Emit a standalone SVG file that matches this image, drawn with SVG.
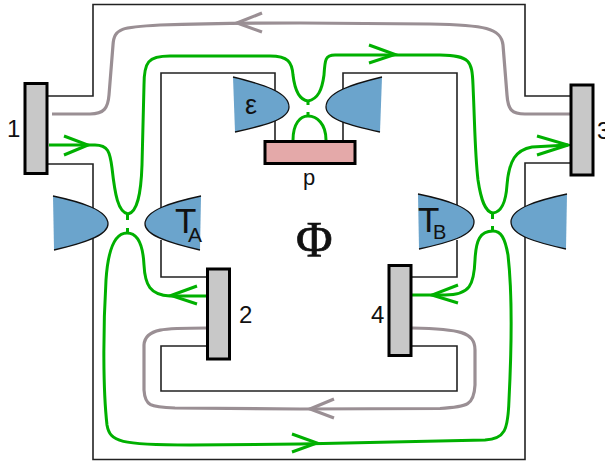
<svg xmlns="http://www.w3.org/2000/svg" width="605" height="462" viewBox="0 0 605 462">
<style>
.wall{fill:none;stroke:#222;stroke-width:1.6}
.g{fill:none;stroke:#00b000;stroke-width:3}
.m{fill:none;stroke:#9a8f94;stroke-width:3.2}
.gate{fill:#6ba4cc;stroke:none}
.edge{fill:none;stroke:#111;stroke-width:1.3}
.contact{fill:#c8c8c8;stroke:#000;stroke-width:3}
text{font-family:"Liberation Sans",Arial,sans-serif;fill:#111}
</style>
<rect width="605" height="462" fill="#fff"/>
<g id="walls">
<path class="wall" d="M48 96H93V4.500H525V96H572"/>
<path class="wall" d="M48 164H93V459.500H525V163H572"/>
<path class="wall" d="M161 209V73H275V140"/>
<path class="wall" d="M343 140V73H457V209"/>
<path class="wall" d="M161 240V277H207"/>
<path class="wall" d="M457 240V277H412"/>
<path class="wall" d="M207 346H161V391H457V346H412"/>
</g>
<g id="connectors">
<path class="m" d="M52 114H90C104 114 108 108 109 95L113 45C114 28 122 27 160 25Q220 23 300 23L430 24C485 25 501 28 503 45L507 95C508 110 512 114 525 114H570"/>
<path class="m" d="M207 328C165 328 145 328 144 345L144 390C145 406 150 407 175 408L300 409L440 408.500C468 407 474 405 475 385V350C475 332 460 329 412 328"/>
<path class="g" d="M49 145H95C108 145 110 152 112 168C115 195 118 212 128 214C137 212 141 195 142 165L144 85C144 62 148 56 170 56H270C288 56 292 62 293 75C295 92 300 100 308 101C318 99 322 90 324 75C325 60 325 55 335 55L440 55C470 56 472 60 473 85C475 130 475 155 478 180C481 200 485 212 493 213C502 212 506 200 507 185C509 160 516 150 532 147L568 145"/>
<path class="g" d="M293 140C293 124 300 116 308 116C317 116 326 124 326 140"/>
<path class="g" d="M207 296H170C150 295 145 285 144 265C143 245 138 233 127 233C115 233 108 250 106 280C103 330 103 390 107 425C110 442 120 445 190 445L300 444L485 440C505 439 508 430 509 400C512 340 512 290 508 255C505 238 501 231 493 231C480 231 476 240 475 260C474 285 470 295 445 295H412"/>
<path class="g" d="M127.500 214V220M127.500 228V233M308 101V105M308 112V116M492.500 213V219M492.500 226V231"/>
<path class="m" d="M262 13L237 23L262 32M334 399L310 409L334 418"/>
<path class="g" d="M64 136L88 145L64 155M369 45L395 54.500L369 63M537 136L568 145L537 155M197 286L171 295.500L197 304M458 285L432 295L458 303M292 434L317 443L292 452"/>
</g>
<g id="gate-eps"><path class="gate" d="M233 77C262 84 289 92 289 107C289 120 262 126 235 132Z"/><path class="edge" d="M233 77C262 84 289 92 289 107C289 120 262 126 235 132"/></g>
<g id="gate-eps-r"><path class="gate" d="M382 77C353 84 326 92 326 107C326 120 353 126 380 132Z"/><path class="edge" d="M382 77C353 84 326 92 326 107C326 120 353 126 380 132"/></g>
<g id="gate-ta-l"><path class="gate" d="M53 196C81 202 108 210 108 224C108 236 81 244 54 250Z"/><path class="edge" d="M53 196C81 202 108 210 108 224C108 236 81 244 54 250"/></g>
<g id="gate-ta-r"><path class="gate" d="M201 196C173 202 145 210 145 224C145 236 173 244 200 250Z"/><path class="edge" d="M201 196C173 202 145 210 145 224C145 236 173 244 200 250"/></g>
<g id="gate-tb-l"><path class="gate" d="M418 194C447 200 474 208 474 222C474 236 447 243 419 249Z"/><path class="edge" d="M418 194C447 200 474 208 474 222C474 236 447 243 419 249"/></g>
<g id="gate-tb-r"><path class="gate" d="M567 194C539 200 511 208 511 222C511 236 539 243 566 249Z"/><path class="edge" d="M567 194C539 200 511 208 511 222C511 236 539 243 566 249"/></g>
<g id="contact-1"><rect class="contact" x="25" y="83.500" width="22" height="90"/><text x="7" y="137" font-size="24">1</text></g>
<g id="contact-2"><rect class="contact" x="207.500" y="269" width="22" height="90"/><text x="239" y="323" font-size="24">2</text></g>
<g id="contact-3"><rect class="contact" x="571" y="85" width="22" height="90"/><text x="597" y="139" font-size="24">3</text></g>
<g id="contact-4"><rect class="contact" x="389" y="265.500" width="22" height="90"/><text x="371" y="323" font-size="24">4</text></g>
<g id="p"><rect fill="#e4a9a9" stroke="#000" stroke-width="3" x="265" y="141.500" width="90" height="22"/><text x="303" y="185" font-size="22">p</text></g>
<text x="245" y="114" font-size="27">ε</text>
<text x="175" y="233" font-size="35">T</text><text x="188" y="242" font-size="21">A</text>
<text x="418" y="232" font-size="35">T</text><text x="433" y="239" font-size="20">B</text>
<text x="296" y="256" font-size="50" stroke="#111" stroke-width="0.7" style="font-family:'Liberation Serif',serif">Φ</text>
</svg>
